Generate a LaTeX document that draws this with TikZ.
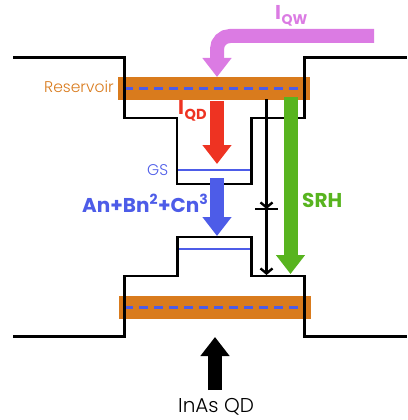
\documentclass[tikz,border=0pt]{standalone}
\usepackage{fontspec}
\setmainfont{Poppins}
\newfontfamily\lightfont{Poppins Light}
\usetikzlibrary{arrows.meta}
\definecolor{orangeband}{HTML}{D97B1D}
\definecolor{dashblue}{HTML}{4D5CE8}
\definecolor{magentaarrow}{HTML}{DB7BE3}
\definecolor{redarrow}{HTML}{EE3322}
\definecolor{greenarrow}{HTML}{58B41F}
\tikzset{
  x=1pt,y=-1pt,
  band/.style={fill=orangeband,draw=none},
  level/.style={draw=black,line width=2.4pt,line join=miter},
  state/.style={draw=dashblue,line width=2.8pt},
  dashline/.style={draw=dashblue,line width=3pt,dash pattern=on 8.5pt off 6.5pt},
  bigarrow/.style={line width=14pt,-{Triangle[length=19pt,width=28pt]},shorten >=0pt},
  thin arrow/.style={draw=black,line width=2.4pt,-{Straight Barb[length=5pt,width=12pt,line width=2.4pt]}},
  lab/.style={inner sep=0pt,anchor=base west}
}
\begin{document}
\begin{tikzpicture}
\useasboundingbox (0,0) rectangle (407,420);
% bands
\fill[band] (118,77) rectangle (310,100);
\fill[band] (119,296) rectangle (311,319);
\draw[dashline] (124,88) -- (302,88);
\draw[dashline] (124,307) -- (302,307);
% states
\draw[state] (177,170) -- (251,170);
\draw[state] (177,249) -- (251,249);
% band edges
\draw[level] (13,57.5) -- (124.5,57.5) -- (124.5,118) -- (177,118) -- (177,184) -- (251.5,184) -- (251.5,118) -- (304.3,118) -- (304.3,57.5) -- (407,57.5);
\draw[level] (13,336.5) -- (124.5,336.5) -- (124.5,275.7) -- (177.5,275.7) -- (177.5,237) -- (251.5,237) -- (251.5,275.7) -- (304.3,275.7) -- (304.3,336.5) -- (407,336.5);
% arrows
\coordinate (qwstart) at (374,36);
\coordinate (qwend) at (217,77);
\draw[bigarrow,draw=magentaarrow,color=magentaarrow,rounded corners=13pt] (qwstart) -- (217,36) -- (qwend);
\coordinate (qda) at (217,101); \coordinate (qdb) at (217,164);
\draw[bigarrow,draw=redarrow,color=redarrow] (qda) -- (qdb);
\coordinate (aa) at (217,178); \coordinate (ab) at (217,236);
\draw[bigarrow,draw=dashblue,color=dashblue] (aa) -- (ab);
\coordinate (sa) at (290.5,97); \coordinate (sb) at (290.5,274);
\draw[bigarrow,draw=greenarrow,color=greenarrow] (sa) -- (sb);
\coordinate (ia) at (215,390); \coordinate (ib) at (215,337);
\draw[bigarrow,draw=black,color=black] (ia) -- (ib);
% thin arrows
\coordinate (ta) at (266.5,99); \coordinate (tb) at (266.5,209);
\coordinate (tc) at (266.5,209); \coordinate (td) at (266.5,275);
\draw[thin arrow] (ta) -- (tb);
\draw[thin arrow] (tc) -- (td);
\coordinate (bl) at (255,209); \coordinate (br) at (278,209);
\draw[black,line width=2.4pt] (bl) -- (br);
% labels
\node[lab,text=orangeband,font=\lightfont\fontsize{15.5}{16}\selectfont] (res) at (44,92.7) {Reservoir};
\node[lab,text=dashblue,font=\lightfont\fontsize{15.5}{16}\selectfont] (gs) at (147,175) {GS};
\node[lab,text=redarrow,font=\bfseries\fontsize{20}{21}\selectfont] (iqd) at (178,114) {I\kern0.5pt\raisebox{-5pt}{\fontsize{14.5}{16}\selectfont QD}};
\node[lab,text=magentaarrow,font=\bfseries\fontsize{20}{21}\selectfont] (iqw) at (275,20) {I\kern0.5pt\raisebox{-4.5pt}{\fontsize{14}{16}\selectfont QW}};
\node[lab,text=dashblue,font=\bfseries\fontsize{20}{21}\selectfont] (abc) at (82,212) {An+Bn\textsuperscript{2}+Cn\textsuperscript{3}};
\node[lab,text=greenarrow,font=\bfseries\fontsize{20}{21}\selectfont] (srh) at (302,207) {SRH};
\node[lab,text=black,font=\lightfont\fontsize{20}{21}\selectfont] (qd) at (178,412) {InAs QD};
\end{tikzpicture}
\end{document}
